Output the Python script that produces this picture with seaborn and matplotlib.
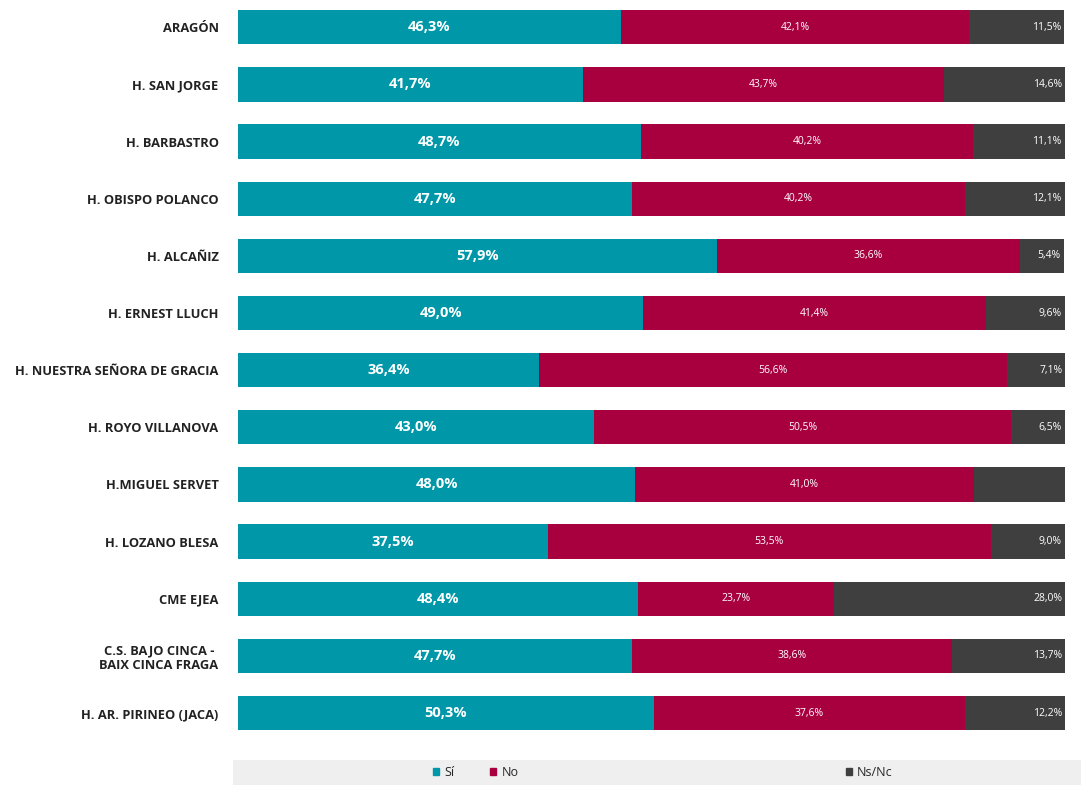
import numpy as np
import pandas as pd
import seaborn as sns
import matplotlib.pyplot as plt
from matplotlib.patches import Patch, Rectangle

# Datos (porcentajes)
centros = ['ARAGÓN', 'H. SAN JORGE', 'H. BARBASTRO', 'H. OBISPO POLANCO', 'H. ALCAÑIZ',
           'H. ERNEST LLUCH', 'H. NUESTRA SEÑORA DE GRACIA', 'H. ROYO VILLANOVA',
           'H.MIGUEL SERVET', 'H. LOZANO BLESA', 'CME EJEA',
           'C.S. BAJO CINCA -\nBAIX CINCA FRAGA', 'H. AR. PIRINEO (JACA)']
si = [46.3, 41.7, 48.7, 47.7, 57.9, 49.0, 36.4, 43.0, 48.0, 37.5, 48.4, 47.7, 50.3]
no = [42.1, 43.7, 40.2, 40.2, 36.6, 41.4, 56.6, 50.5, 41.0, 53.5, 23.7, 38.6, 37.6]
nsnc = [11.5, 14.6, 11.1, 12.1, 5.4, 9.6, 7.1, 6.5, 11.0, 9.0, 28.0, 13.7, 12.2]
nsnc_visible = [True] * 8 + [False] + [True] * 4

col_si = '#0098A8'
col_no = '#A8003F'
col_ns = '#3F3F3F'

df = pd.DataFrame({'centro': centros, 'si': si, 'no': no, 'nsnc': nsnc})
df['si_no'] = df['si'] + df['no']
df['total'] = df['si_no'] + df['nsnc']

sns.set_style('white')
plt.rcParams['font.family'] = ['Open Sans', 'DejaVu Sans']

fig = plt.figure(figsize=(10.81, 7.85), dpi=100)
ax = fig.add_axes([0.2202, 0.0553, 0.765, 0.9427])

# barras apiladas: de la suma total hacia dentro
for campo, col in [('total', col_ns), ('si_no', col_no), ('si', col_si)]:
    sns.barplot(data=df, x=campo, y='centro', color=col, width=0.6, ax=ax,
                saturation=1, linewidth=0, edgecolor='none')

for i, row in df.iterrows():
    ax.text(row['si'] / 2, i, f"{row['si']:.1f}%".replace('.', ','), ha='center', va='center',
            color='white', fontsize=10.5, fontweight='bold')
    ax.text(row['si'] + row['no'] / 2, i, f"{row['no']:.1f}%".replace('.', ','), ha='center',
            va='center', color='white', fontsize=7.5)
    if nsnc_visible[i]:
        ax.text(row['total'] - 0.4, i, f"{row['nsnc']:.1f}%".replace('.', ','), ha='right',
                va='center', color='white', fontsize=7.5)

ax.set_xlim(0, 100)
ax.set_ylim(12.5, -0.45)
ax.set_xlabel('')
ax.set_ylabel('')
ax.set_xticks([])
ax.tick_params(axis='y', length=0, pad=14)
for lbl in ax.get_yticklabels():
    lbl.set_fontsize(9.3)
    lbl.set_fontweight('bold')
    lbl.set_color('#222222')
    lbl.set_horizontalalignment('right')
    lbl.set_multialignment('center')
sns.despine(ax=ax, left=True, bottom=True)

# caja de leyenda
fig.patches.append(Rectangle((0.216, 0.0), 0.784, 0.032, transform=fig.transFigure,
                             facecolor='#EFEFEF', edgecolor='none', zorder=0))
for lab, col, xpos in [('Sí', col_si, 0.39), ('No', col_no, 0.443), ('Ns/Nc', col_ns, 0.772)]:
    fig.legend(handles=[Patch(color=col)], labels=[lab], loc='center left',
               bbox_to_anchor=(xpos, 0.016), frameon=False, fontsize=9,
               handlelength=0.5, handleheight=0.5, handletextpad=0.4)

fig.savefig('out.png', dpi=100)
